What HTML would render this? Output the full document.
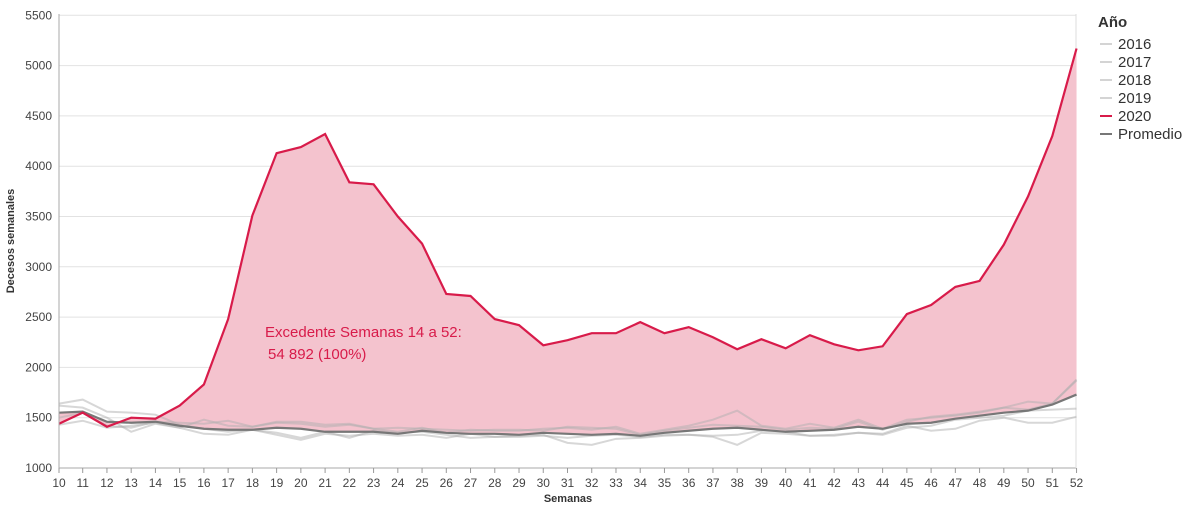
<!DOCTYPE html>
<html><head><meta charset="utf-8"><style>
body{margin:0;background:#fff;font-family:"Liberation Sans",sans-serif}
svg text{font-family:"Liberation Sans",sans-serif}
</style></head><body>
<svg width="1200" height="513">
<g id="grid"></g><g id="marks"></g><g id="axes"></g>
<text x="14" y="241" transform="rotate(-90 14 241)" text-anchor="middle" font-size="11" font-weight="bold" fill="#333">Decesos semanales</text>
<text x="568" y="502" text-anchor="middle" font-size="11" font-weight="bold" fill="#333">Semanas</text>
<text x="265" y="337" font-size="15" fill="#d81b4a">Excedente Semanas 14 a 52:</text>
<text x="268" y="359" font-size="15" fill="#d81b4a">54 892 (100%)</text>
<g>
<text x="1098" y="27" font-size="15" font-weight="bold" fill="#333">Año</text>
<g id="legend"></g>
</g>
</svg>
<script>
const weeks=[10,11,12,13,14,15,16,17,18,19,20,21,22,23,24,25,26,27,28,29,30,31,32,33,34,35,36,37,38,39,40,41,42,43,44,45,46,47,48,49,50,51,52];
const y2020=[1440,1550,1410,1500,1490,1620,1830,2480,3510,4130,4190,4320,3840,3820,3500,3230,2730,2710,2480,2420,2220,2270,2340,2340,2450,2340,2400,2300,2180,2280,2190,2320,2230,2170,2210,2530,2620,2800,2860,3220,3700,4300,5170];
const yAvg=[1550,1560,1460,1450,1460,1420,1390,1380,1380,1400,1390,1360,1360,1360,1340,1370,1350,1340,1340,1330,1350,1340,1330,1340,1320,1350,1370,1390,1400,1380,1360,1370,1380,1410,1390,1440,1450,1490,1520,1550,1570,1630,1730];
const y2016=[1640,1680,1560,1550,1530,1430,1390,1360,1380,1350,1300,1360,1300,1370,1350,1360,1330,1300,1310,1320,1330,1250,1230,1290,1300,1320,1330,1310,1230,1350,1340,1320,1330,1350,1340,1420,1370,1390,1470,1500,1450,1450,1510];
const y2017=[1620,1600,1500,1360,1440,1400,1340,1330,1380,1330,1280,1340,1320,1340,1320,1330,1300,1340,1310,1310,1320,1300,1320,1330,1310,1330,1330,1320,1330,1370,1360,1320,1320,1350,1330,1400,1420,1480,1500,1520,1570,1580,1590];
const y2018=[1430,1470,1400,1420,1450,1400,1480,1420,1410,1450,1440,1410,1430,1390,1360,1400,1350,1380,1370,1370,1390,1400,1380,1410,1340,1380,1420,1480,1570,1420,1390,1440,1400,1480,1390,1480,1500,1520,1550,1600,1660,1640,1880];
const y2019=[1500,1550,1420,1400,1460,1450,1440,1470,1410,1460,1460,1430,1440,1390,1400,1390,1380,1370,1380,1380,1370,1410,1400,1390,1330,1370,1400,1430,1420,1410,1380,1400,1390,1460,1380,1460,1510,1530,1560,1600,1580,1640,1870];
const yTicks=[1000,1500,2000,2500,3000,3500,4000,4500,5000,5500];
const legendLabels=["2016","2017","2018","2019","2020","Promedio"];
const legendColors=["#d4d4d4","#d4d4d4","#d4d4d4","#d4d4d4","#d81b4a","#777"];
const NS="http://www.w3.org/2000/svg";
function x(w){return w<=10?59+(w-10)*23.7:82.7+(w-11)*24.24;}
function y(v){return 468-(v-1000)*50.3/500;}
function mk(tag,attrs,parent){const e=document.createElementNS(NS,tag);for(const k in attrs)e.setAttribute(k,attrs[k]);document.getElementById(parent).appendChild(e);return e;}
yTicks.forEach(t=>{
 const g=mk('line',{x1:59,x2:1076,y1:y(t),y2:y(t),stroke:t===1000?'#aaa':'#e2e2e2','stroke-width':1},'grid');
 
 
 const l=mk('text',{x:52,y:y(t)+4,'text-anchor':'end','font-size':12,fill:'#444'},'axes');l.textContent=t;
 
 
});
mk('line',{x1:59,x2:59,y1:14,y2:468,stroke:'#aaa'},'axes');
mk('line',{x1:1076,x2:1076,y1:14,y2:468,stroke:'#ddd'},'grid');
weeks.forEach(w=>{
 mk('line',{x1:x(w),x2:x(w),y1:468,y2:473,stroke:'#999'},'axes');
 const l=mk('text',{x:x(w),y:487,'text-anchor':'middle','font-size':12,fill:'#444'},'axes');l.textContent=w;
 
 
});
function pts(arr){return arr.map((v,i)=>x(weeks[i])+','+y(v));}
const area=mk('polygon',{points:pts(y2020).concat(pts(yAvg).reverse()).join(' '),fill:'#f4c3ce'},'marks');


[[y2016,'line-2016'],[y2017,'line-2017'],[y2018,'line-2018'],[y2019,'line-2019']].forEach(([a,n])=>{
 const p=mk('polyline',{points:pts(a).join(' '),fill:'none',stroke:'#b0b0b0','stroke-opacity':0.5,'stroke-width':2},'marks');
 
 
});
const pa=mk('polyline',{points:pts(yAvg).join(' '),fill:'none',stroke:'#777','stroke-width':2.2},'marks');


const pr=mk('polyline',{points:pts(y2020).join(' '),fill:'none',stroke:'#d81b4a','stroke-width':2.2},'marks');


legendLabels.forEach((lab,i)=>{
 const yy=43+i*18;
 mk('line',{x1:1100,x2:1112,y1:yy+1,y2:yy+1,stroke:legendColors[i],'stroke-width':2},'legend');
 const t=mk('text',{x:1118,y:yy+6,'font-size':15,fill:'#333'},'legend');t.textContent=lab;
 
 
});
</script>
</body></html>
